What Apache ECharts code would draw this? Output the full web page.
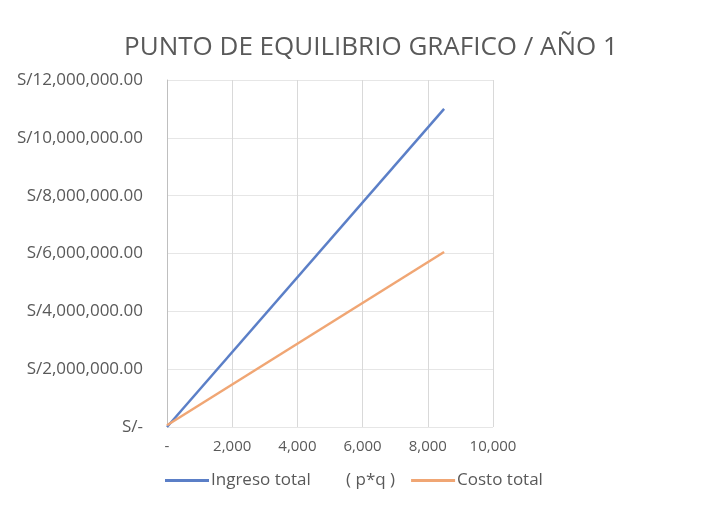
<!DOCTYPE html>
<html><head><meta charset="utf-8">
<script src="https://cdn.jsdelivr.net/npm/echarts@6/dist/echarts.min.js"></script>
<style>html,body{margin:0;padding:0;background:#fff}#c{width:720px;height:506px}</style>
</head><body><div id="c"></div>
<script>
const cantidades = [0, 8500];
const ingresoTotal = [0, 11000000];
const costoTotal = [60000, 6050000];
const xTicks = [0, 2000, 4000, 6000, 8000, 10000];
const yTicks = [0, 2000000, 4000000, 6000000, 8000000, 10000000, 12000000];
const serieIngreso = 'Ingreso total        ( p*q )';
const serieCosto = 'Costo total';

const chart = echarts.init(document.getElementById('c'));
const font = '"Open Sans", "Liberation Sans", sans-serif';
chart.setOption({
  animation: false,
  textStyle: {fontFamily: font},
  title: {text: 'PUNTO DE EQUILIBRIO GRAFICO / AÑO 1', left: 366, textAlign: 'center', top: 30,
    textStyle: {fontFamily: font, fontSize: 26, fontWeight: 'normal', color: '#595959'}},
  legend: {bottom: 12, left: 160, itemWidth: 44, itemHeight: 3, itemGap: 16,
    icon: 'rect',
    textStyle: {fontFamily: font, fontSize: 17, color: '#595959', padding: [0, 0, 0, -3]},
    data: [serieIngreso, serieCosto]},
  grid: {left: 167, right: 227, top: 80, bottom: 79},
  xAxis: {type: 'value', min: xTicks[0], max: xTicks[xTicks.length-1], interval: 2000,
    axisLine: {show: false}, axisTick: {show: false},
    splitLine: {show: true, lineStyle: {color: '#d9d9d9'}},
    axisLabel: {fontFamily: font, fontSize: 15, color: '#595959', margin: 12,
      formatter: v => v === 0 ? '-' : v.toLocaleString('en-US')}},
  yAxis: {type: 'value', min: yTicks[0], max: yTicks[yTicks.length-1], interval: 2000000,
    axisLine: {show: true, lineStyle: {color: '#bfbfbf'}}, axisTick: {show: false},
    splitLine: {show: true, lineStyle: {color: '#e6e6e6'}},
    axisLabel: {fontFamily: font, fontSize: 17, color: '#595959', margin: 24,
      formatter: v => v === 0 ? 'S/-' : 'S/' + v.toLocaleString('en-US', {minimumFractionDigits: 2, maximumFractionDigits: 2})}},
  series: [
    {name: serieIngreso, type: 'line', showSymbol: false, symbol: 'none',
      data: cantidades.map((q, i) => [q, ingresoTotal[i]]),
      lineStyle: {color: '#5b7fc7', width: 2.5}, itemStyle: {color: '#5b7fc7'}},
    {name: serieCosto, type: 'line', showSymbol: false, symbol: 'none',
      data: cantidades.map((q, i) => [q, costoTotal[i]]),
      lineStyle: {color: '#f0a674', width: 2.5}, itemStyle: {color: '#f0a674'}}
  ]
});
</script></body></html>
